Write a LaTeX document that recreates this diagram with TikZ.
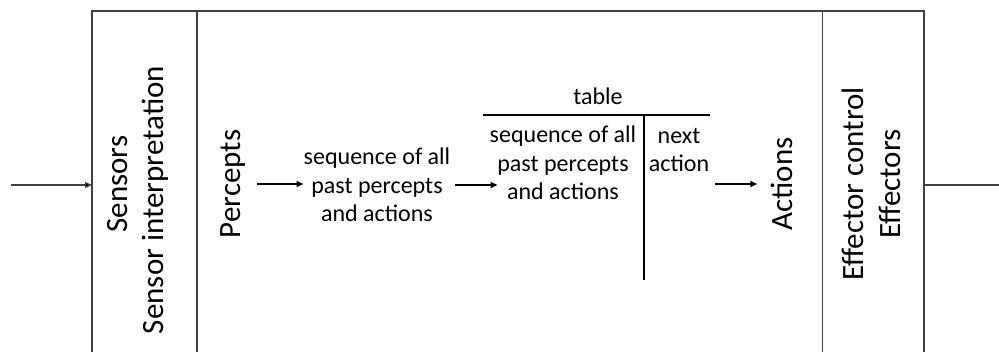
\documentclass[tikz,border=0pt]{standalone}
\usepackage{fontspec}
\setmainfont{Carlito}
\usetikzlibrary{calc}
\usetikzlibrary{arrows.meta}

\definecolor{framegray}{RGB}{64,64,64}
\tikzset{
  big/.style={font=\fontsize{31}{37}\selectfont, inner sep=0pt, rotate=90, anchor=base},
  small/.style={font=\fontsize{24}{28.5}\selectfont, inner sep=0pt, align=center},
  frame/.style={draw=framegray, line width=1.2pt},
  arr/.style={line width=1.6pt, -{Triangle[length=7pt,width=6pt]}},
  thinarr/.style={draw=framegray, line width=1.2pt, -{Triangle[length=7pt,width=6pt,fill=black]}}
}

\begin{document}
\begin{tikzpicture}[x=1pt,y=-1pt]
    \useasboundingbox (0,0) rectangle (999,352);

    % outer box, open at the bottom
    \draw[frame] (92,352) -- (92,11) -- (924,11) -- (924,352);
    \draw[frame] (197,11) -- (197,352);
    \draw[frame] (822.5,11) -- (822.5,352);

    \coordinate (inp) at (11,185);
    \coordinate (boxl) at (92,185);
    \coordinate (boxr) at (924,185);
    \coordinate (outp) at (999,185);

    \node[big] (sens) at (127.5,184) {Sensors};
    \node[big] (sensint) at (163,200) {Sensor interpretation};
    \node[big] (perc) at (240,184) {Percepts};
    \node[big] (act) at (792,184) {Actions};
    \node[big] (effc) at (863,184) {Effector control};
    \node[big] (eff) at (900,184) {Effectors};

    \node[small] (hist) at (377,185) {sequence of all\\past percepts\\and actions};

    % the table
    \node[small, anchor=base] (tbl) at (598,105) {table};
    \coordinate (tl) at (483,115);
    \coordinate (tr) at (710,115);
    \coordinate (tm) at (644,115);
    \coordinate (tb) at (644,280);
    \draw[line width=1.2pt] (tl) -- (tr);
    \draw[line width=1.2pt] (tm) -- (tb);
    \node[small] (col1) at (563,163) {sequence of all\\past percepts\\and actions};
    \node[small] (col2) at (679,150) {next\\action};

    \draw[thinarr] (inp) -- (boxl);
    \draw[frame] (boxr) -- (outp);
    \draw[arr, shorten <=12pt] (perc.south) -- (perc.south -| hist.west);
    \draw[arr, shorten <=5pt, shorten >=-8pt] (hist.east) -- (hist.east -| col1.west);
    \draw[arr, shorten <=6pt, shorten >=13pt] (col2.east |- act) -- (act.north);
    %\draw (tm) -- (tb) node[below]{};
\end{tikzpicture}
\end{document}
